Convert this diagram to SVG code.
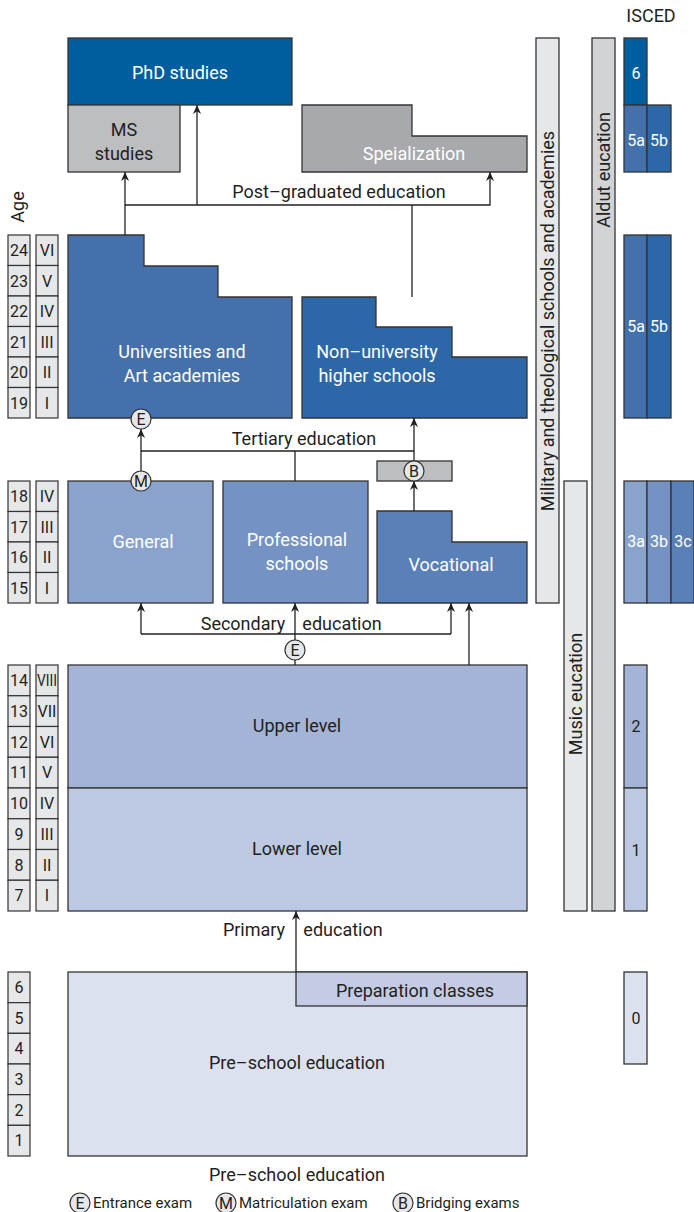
<svg xmlns="http://www.w3.org/2000/svg" width="694" height="1212" viewBox="0 0 694 1212">
<defs>
<marker id="ah" viewBox="0 0 10 10" refX="10" refY="5" markerWidth="9" markerHeight="9" markerUnits="userSpaceOnUse" orient="auto">
<path d="M0,0.5 L10,5 L0,9.5 L3,5 z" fill="#231f20"/>
</marker>
<style>
.bx{stroke:#333;stroke-width:1.3}
.t{font-family:Roboto,"Liberation Sans",sans-serif;font-size:18px;fill:#231f20;text-anchor:middle}
.s{font-family:Roboto,"Liberation Sans",sans-serif;font-size:16px;fill:#231f20;text-anchor:middle}
.l{font-family:Roboto,"Liberation Sans",sans-serif;font-size:15px;fill:#231f20}
.w{fill:#fff}
.cell{fill:#e6e7e8;stroke:#333;stroke-width:1.2}
.c{fill:none;stroke:#231f20;stroke-width:1.3}
.ci{fill:#e6e7e8;stroke:#333;stroke-width:1.2}
</style>
</defs>
<rect width="694" height="1212" fill="#fff"/>

<g id="age">
<text class="t" transform="translate(24,207) rotate(-90)">Age</text>
<g id="age-tertiary">
<rect class="cell" x="8" y="235" width="22" height="30.5"/><rect class="cell" x="8" y="265.5" width="22" height="30.5"/><rect class="cell" x="8" y="296" width="22" height="30.5"/><rect class="cell" x="8" y="326.5" width="22" height="30.5"/><rect class="cell" x="8" y="357" width="22" height="30.5"/><rect class="cell" x="8" y="387.5" width="22" height="30.5"/>
<rect class="cell" x="36" y="235" width="22" height="30.5"/><rect class="cell" x="36" y="265.5" width="22" height="30.5"/><rect class="cell" x="36" y="296" width="22" height="30.5"/><rect class="cell" x="36" y="326.5" width="22" height="30.5"/><rect class="cell" x="36" y="357" width="22" height="30.5"/><rect class="cell" x="36" y="387.5" width="22" height="30.5"/>
<text class="s" x="19" y="256">24</text><text class="s" x="19" y="287">23</text><text class="s" x="19" y="317">22</text><text class="s" x="19" y="348">21</text><text class="s" x="19" y="378">20</text><text class="s" x="19" y="409">19</text>
<text class="s" x="47" y="256">VI</text><text class="s" x="47" y="287">V</text><text class="s" x="47" y="317">IV</text><text class="s" x="47" y="348">III</text><text class="s" x="47" y="378">II</text><text class="s" x="47" y="409">I</text>
</g>
<g id="age-secondary">
<rect class="cell" x="8" y="481" width="22" height="30.5"/><rect class="cell" x="8" y="511.5" width="22" height="30.5"/><rect class="cell" x="8" y="542" width="22" height="30.5"/><rect class="cell" x="8" y="572.5" width="22" height="30.5"/>
<rect class="cell" x="36" y="481" width="22" height="30.5"/><rect class="cell" x="36" y="511.5" width="22" height="30.5"/><rect class="cell" x="36" y="542" width="22" height="30.5"/><rect class="cell" x="36" y="572.5" width="22" height="30.5"/>
<text class="s" x="19" y="502">18</text><text class="s" x="19" y="533">17</text><text class="s" x="19" y="563">16</text><text class="s" x="19" y="594">15</text>
<text class="s" x="47" y="502">IV</text><text class="s" x="47" y="533">III</text><text class="s" x="47" y="563">II</text><text class="s" x="47" y="594">I</text>
</g>
<g id="age-primary">
<rect class="cell" x="8" y="665" width="22" height="30.75"/><rect class="cell" x="8" y="695.75" width="22" height="30.75"/><rect class="cell" x="8" y="726.5" width="22" height="30.75"/><rect class="cell" x="8" y="757.25" width="22" height="30.75"/><rect class="cell" x="8" y="788" width="22" height="30.75"/><rect class="cell" x="8" y="818.75" width="22" height="30.75"/><rect class="cell" x="8" y="849.5" width="22" height="30.75"/><rect class="cell" x="8" y="880.25" width="22" height="30.75"/>
<rect class="cell" x="36" y="665" width="22" height="30.75"/><rect class="cell" x="36" y="695.75" width="22" height="30.75"/><rect class="cell" x="36" y="726.5" width="22" height="30.75"/><rect class="cell" x="36" y="757.25" width="22" height="30.75"/><rect class="cell" x="36" y="788" width="22" height="30.75"/><rect class="cell" x="36" y="818.75" width="22" height="30.75"/><rect class="cell" x="36" y="849.5" width="22" height="30.75"/><rect class="cell" x="36" y="880.25" width="22" height="30.75"/>
<text class="s" x="19" y="686">14</text><text class="s" x="19" y="717">13</text><text class="s" x="19" y="748">12</text><text class="s" x="19" y="778">11</text><text class="s" x="19" y="809">10</text><text class="s" x="19" y="840">9</text><text class="s" x="19" y="871">8</text><text class="s" x="19" y="901">7</text>
<text class="s" x="47" y="686" textLength="20" lengthAdjust="spacingAndGlyphs">VIII</text><text class="s" x="47" y="717" textLength="19" lengthAdjust="spacingAndGlyphs">VII</text><text class="s" x="47" y="748">VI</text><text class="s" x="47" y="778">V</text><text class="s" x="47" y="809">IV</text><text class="s" x="47" y="840">III</text><text class="s" x="47" y="871">II</text><text class="s" x="47" y="901">I</text>
</g>
<g id="age-preschool">
<rect class="cell" x="8" y="972" width="22" height="30.67"/><rect class="cell" x="8" y="1002.67" width="22" height="30.67"/><rect class="cell" x="8" y="1033.33" width="22" height="30.67"/><rect class="cell" x="8" y="1064" width="22" height="30.67"/><rect class="cell" x="8" y="1094.67" width="22" height="30.67"/><rect class="cell" x="8" y="1125.33" width="22" height="30.67"/>
<text class="s" x="19" y="993">6</text><text class="s" x="19" y="1024">5</text><text class="s" x="19" y="1054">4</text><text class="s" x="19" y="1085">3</text><text class="s" x="19" y="1116">2</text><text class="s" x="19" y="1146">1</text>
</g>
</g>

<g id="phd"><rect class="bx" x="68" y="38" width="224" height="67" fill="#005e9f"/><text class="t w" x="180" y="79">PhD studies</text></g>
<g id="ms"><rect class="bx" x="68" y="105" width="112" height="67" fill="#bcbec0"/><text class="t" x="124" y="136">MS</text><text class="t" x="124" y="160">studies</text></g>
<g id="specialization"><path class="bx" d="M302,105 H412 V136 H527 V172 H302 Z" fill="#a7a9ac"/><text class="t w" x="414" y="160">Speialization</text></g>
<g id="universities"><path class="bx" d="M68,235 H144 V266 H218 V297 H292 V418 H68 Z" fill="#4470ab"/><text class="t w" x="182" y="358">Universities and</text><text class="t w" x="182" y="382">Art academies</text></g>
<g id="nonuniversity"><path class="bx" d="M302,297 H376 V327 H452 V357 H527 V418 H302 Z" fill="#2c68a8"/><text class="t w" x="377" y="358">Non–university</text><text class="t w" x="377" y="382">higher schools</text></g>
<g id="general"><rect class="bx" x="68" y="481" width="145" height="122" fill="#8aa3cd"/><text class="t w" x="143" y="548">General</text></g>
<g id="professional"><rect class="bx" x="223" y="481" width="145" height="122" fill="#7492c3"/><text class="t w" x="297" y="546">Professional</text><text class="t w" x="297" y="570">schools</text></g>
<g id="vocational"><path class="bx" d="M377,511 H452 V542 H527 V603 H377 Z" fill="#5a80b8"/><text class="t w" x="451" y="571">Vocational</text></g>
<g id="bridging"><rect class="bx" x="377" y="461" width="75" height="20" fill="#bcbec0"/></g>
<g id="upper"><rect class="bx" x="68" y="665" width="459" height="123" fill="#a3b4d6"/><text class="t" x="297" y="732">Upper level</text></g>
<g id="lower"><rect class="bx" x="68" y="788" width="459" height="123" fill="#bdc8e2"/><text class="t" x="297" y="855">Lower level</text></g>
<g id="preschool"><rect class="bx" x="68" y="972" width="459" height="184" fill="#dbe1ee"/><text class="t" x="297" y="1069">Pre–school education</text></g>
<g id="preparation"><rect class="bx" x="296" y="972" width="231" height="34" fill="#c3cce4"/><text class="t" x="415" y="997">Preparation classes</text></g>

<g id="military"><rect class="bx" x="536" y="38" width="23" height="565" fill="#e6e7e8"/><text class="t" transform="translate(554,321) rotate(-90)">Military and theological schools and academies</text></g>
<g id="music"><rect class="bx" x="564" y="481" width="23" height="430" fill="#e6e7e8"/><text class="t" transform="translate(582,694) rotate(-90)">Music eucation</text></g>
<g id="adult"><rect class="bx" x="592" y="38" width="23" height="873" fill="#d1d3d4"/><text class="t" transform="translate(610,170) rotate(-90)">Aldut eucation</text></g>

<g id="isced">
<text class="t" x="651" y="22">ISCED</text>
<rect class="bx" x="624" y="38" width="23" height="67" fill="#005e9f"/><text class="s w" x="636" y="79">6</text>
<rect class="bx" x="624" y="105" width="23" height="67" fill="#4470ab"/><text class="s w" x="636" y="146">5a</text>
<rect class="bx" x="647" y="105" width="24" height="67" fill="#2c68a8"/><text class="s w" x="659" y="146">5b</text>
<rect class="bx" x="624" y="235" width="23" height="183" fill="#4470ab"/><text class="s w" x="636" y="332">5a</text>
<rect class="bx" x="647" y="235" width="24" height="183" fill="#2c68a8"/><text class="s w" x="659" y="332">5b</text>
<rect class="bx" x="624" y="481" width="23" height="122" fill="#8aa3cd"/><text class="s w" x="636" y="547">3a</text>
<rect class="bx" x="647" y="481" width="24" height="122" fill="#7492c3"/><text class="s w" x="659" y="547">3b</text>
<rect class="bx" x="671" y="481" width="23" height="122" fill="#5a80b8"/><text class="s w" x="683" y="547">3c</text>
<rect class="bx" x="624" y="665" width="23" height="123" fill="#a3b4d6"/><text class="s" x="636" y="732">2</text>
<rect class="bx" x="624" y="788" width="23" height="123" fill="#bdc8e2"/><text class="s" x="636" y="856">1</text>
<rect class="bx" x="624" y="972" width="23" height="92" fill="#dbe1ee"/><text class="s" x="636" y="1024">0</text>
</g>

<g id="connectors">
<path class="c" d="M125,235 V172" marker-end="url(#ah)"/>
<path class="c" d="M125,205 H490 V172" marker-end="url(#ah)"/>
<path class="c" d="M197,205 V105" marker-end="url(#ah)"/>
<path class="c" d="M412,297 V205"/>
<path class="c" d="M141,471 V429" marker-end="url(#ah)"/>
<path class="c" d="M141,451 H414"/>
<path class="c" d="M295,481 V451"/>
<path class="c" d="M414,461 V418" marker-end="url(#ah)"/>
<path class="c" d="M414,511 V481" marker-end="url(#ah)"/>
<path class="c" d="M141,634 H451"/>
<path class="c" d="M141,634 V603" marker-end="url(#ah)"/>
<path class="c" d="M451,634 V603" marker-end="url(#ah)"/>
<path class="c" d="M295,665 V603" marker-end="url(#ah)"/>
<path class="c" d="M469,665 V603" marker-end="url(#ah)"/>
<path class="c" d="M296,972 V911" marker-end="url(#ah)"/>
</g>

<g id="exams">
<circle class="ci" cx="141" cy="419" r="10"/><text class="s" x="141" y="425">E</text>
<circle class="ci" cx="141" cy="481" r="10"/><text class="s" x="141" y="487">M</text>
<circle class="ci" cx="414" cy="471" r="10"/><text class="s" x="414" y="477">B</text>
<circle class="ci" cx="295" cy="650" r="10"/><text class="s" x="295" y="656">E</text>
</g>

<g id="labels">
<text class="t" x="339" y="198">Post–graduated education</text>
<text class="t" x="304" y="445">Tertiary education</text>
<text class="t"><tspan x="243" y="630">Secondary</tspan><tspan x="342" y="630">education</tspan></text>
<text class="t"><tspan x="254" y="936">Primary</tspan><tspan x="343" y="936">education</tspan></text>
<text class="t" x="297" y="1181">Pre–school education</text>
</g>

<g id="legend">
<circle class="ci" cx="80" cy="1203" r="10"/><text class="s" x="80" y="1209">E</text><text class="l" x="93" y="1208">Entrance exam</text>
<circle class="ci" cx="226" cy="1203" r="10"/><text class="s" x="226" y="1209">M</text><text class="l" x="239" y="1208">Matriculation exam</text>
<circle class="ci" cx="403" cy="1203" r="10"/><text class="s" x="403" y="1209">B</text><text class="l" x="416" y="1208">Bridging exams</text>
</g>
</svg>
